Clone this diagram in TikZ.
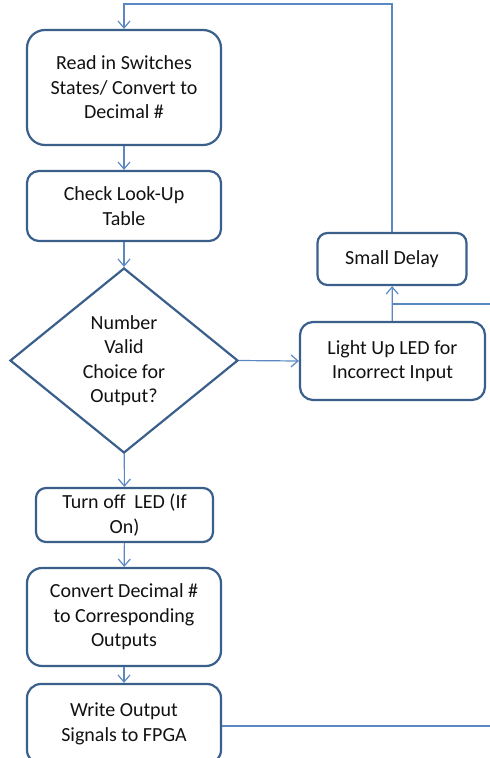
\documentclass[tikz,border=0pt]{standalone}
\usepackage{fontspec}
\setmainfont{Carlito}
\usetikzlibrary{shapes.geometric,arrows.meta}
\definecolor{boxline}{HTML}{3A5F8B}
\definecolor{flowline}{HTML}{5B88C2}
\definecolor{txt}{HTML}{111111}
\tikzset{
  stepbox/.style={draw=boxline, line width=2.2pt, rounded corners=10pt,
    align=center, text=txt, inner sep=0pt},
  choice/.style={draw=boxline, line width=2.2pt, diamond, aspect=1.23,
    align=center, text=txt, inner sep=0pt},
  flow/.style={draw=flowline, line width=1.2pt,
    -{Straight Barb[length=7pt,width=12pt]}},
  plain/.style={draw=flowline, line width=1.2pt}
}
\begin{document}
\begin{tikzpicture}[x=1pt,y=-1pt,font=\fontsize{20}{24.5}\selectfont]
\useasboundingbox (0,0) rectangle (490,758);
\clip (0,0) rectangle (490,758);
\node[stepbox, minimum width=194pt, minimum height=115pt, rounded corners=18pt] (read) at (124,87.5)
  {Read in Switches\\States/ Convert to\\Decimal \#};
\node[stepbox, minimum width=194pt, minimum height=70pt, rounded corners=12pt] (check) at (124,206)
  {Check Look-Up\\Table};
\node[choice, minimum width=228pt, minimum height=185pt] (valid) at (124,360.5)
  {Number\\Valid\\Choice for\\Output?};
\node[stepbox, minimum width=177pt, minimum height=54pt] (off) at (124.5,515)
  {Turn off\ \ LED (If\\On)};
\node[stepbox, minimum width=194pt, minimum height=98pt, rounded corners=15pt] (conv) at (124,617)
  {Convert Decimal \#\\to Corresponding\\Outputs};
\node[stepbox, minimum width=194pt, minimum height=80pt, rounded corners=14pt] (write) at (124,724)
  {Write Output\\Signals to FPGA};
\node[stepbox, minimum width=149pt, minimum height=52pt] (delay) at (392,259)
  {Small Delay};
\node[stepbox, minimum width=185pt, minimum height=78pt, rounded corners=13pt] (led) at (392.5,361)
  {Light Up LED for\\Incorrect Input};
% main column
\draw[flow] (read) -- (check);
\draw[flow] (check) -- (valid);
\draw[flow] (valid) -- (off);
\draw[flow] (off) -- (conv);
\draw[flow] (conv) -- (write);
% error branch and loop back
\draw[flow] (valid.east) -- (led.west);
\draw[flow] (led) -- (delay);
\coordinate (top) at (124,4);
\draw[flow] (delay.north) |- (top) -- (read.north);
\coordinate (inR) at (490,304);
\draw[plain] (inR) -- (led.north |- inR);
\coordinate (outR) at (490,726);
\draw[plain] (write.east |- outR) -- (outR);
\end{tikzpicture}
\end{document}
